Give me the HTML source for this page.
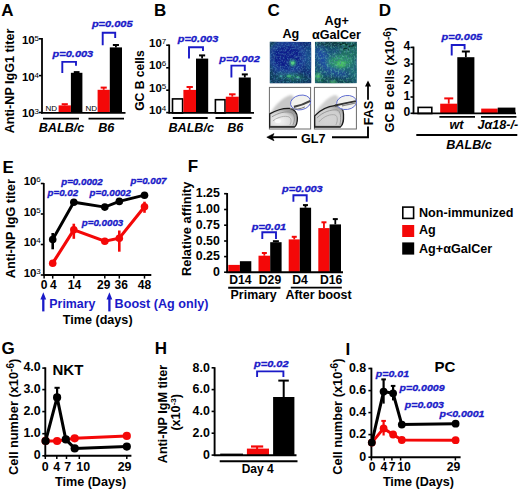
<!DOCTYPE html>
<html><head><meta charset="utf-8"><style>
html,body{margin:0;padding:0;background:#fff;}
svg{display:block;}
text{font-family:"Liberation Sans",sans-serif;}
</style></head><body>
<svg width="520" height="492" viewBox="0 0 520 492" font-weight="bold">
<defs>
<clipPath id="clip1"><rect x="269.8" y="41.8" width="41.5" height="41.5"/></clipPath>
<clipPath id="clip2"><rect x="314.9" y="41.8" width="41.9" height="41.5"/></clipPath>
<filter id="dnoise" x="0" y="0" width="1" height="1"><feTurbulence type="fractalNoise" baseFrequency="0.5" numOctaves="2" seed="11"/><feColorMatrix type="matrix" values="0 0 0 0 0.05  0 0 0 0 0.12  0 0 0 0 0.35  0 0 0 2.6 -1.2"/><feComposite in2="SourceGraphic" operator="in"/></filter>
<filter id="blur2" x="-20%" y="-20%" width="140%" height="140%"><feGaussianBlur stdDeviation="2.2"/></filter>
<filter id="blur05" x="-50%" y="-50%" width="200%" height="200%"><feGaussianBlur stdDeviation="0.5"/></filter>
<filter id="blur1" x="-30%" y="-30%" width="160%" height="160%"><feGaussianBlur stdDeviation="1"/></filter>
<radialGradient id="fg1" cx="0.35" cy="0.7" r="0.75"><stop offset="0" stop-color="#f4f4f4"/><stop offset="0.6" stop-color="#d8d8d8"/><stop offset="1" stop-color="#8a8a8a"/></radialGradient>
<radialGradient id="fg2" cx="0.45" cy="0.65" r="0.75"><stop offset="0" stop-color="#d4d4d4"/><stop offset="0.6" stop-color="#cfcfcf"/><stop offset="1" stop-color="#8a8a8a"/></radialGradient>
<radialGradient id="mg1" cx="0.45" cy="0.55" r="0.7">
 <stop offset="0" stop-color="#2f9a6a"/><stop offset="0.15" stop-color="#1f5ab8"/><stop offset="0.6" stop-color="#1838a8"/><stop offset="1" stop-color="#1a5a8a"/>
</radialGradient>
<radialGradient id="mg2" cx="0.55" cy="0.55" r="0.7">
 <stop offset="0" stop-color="#3fae5a"/><stop offset="0.35" stop-color="#2a7a9a"/><stop offset="1" stop-color="#1f5aa0"/>
</radialGradient>
<filter id="noise1" x="0" y="0" width="1" height="1"><feTurbulence type="fractalNoise" baseFrequency="0.6" numOctaves="2" seed="3"/><feColorMatrix type="matrix" values="0 0 0 0 0.1  0 0 0 0 0.45  0 0 0 0 0.6  0 0 0 3 -1.4"/><feComposite in2="SourceGraphic" operator="in"/></filter>
<filter id="noise2" x="0" y="0" width="1" height="1"><feTurbulence type="fractalNoise" baseFrequency="0.55 0.45" numOctaves="2" seed="8"/><feColorMatrix type="matrix" values="0 0 0 0 0.15  0 0 0 0 0.6  0 0 0 0 0.45  0 0 0 3 -1.35"/><feComposite in2="SourceGraphic" operator="in"/></filter>
</defs>
<rect width="520" height="492" fill="#fff"/>
<text x="1.3" y="16.3" font-size="17" text-anchor="start" fill="#000">A</text>
<text x="14" y="81" font-size="12.6" text-anchor="middle" fill="#000" transform="rotate(-90 14 81)">Anti-NP IgG1 titer</text>
<line x1="42" y1="38" x2="42" y2="113.5" stroke="#000" stroke-width="1.8" stroke-linecap="butt"/>
<line x1="39" y1="38.8" x2="42" y2="38.8" stroke="#000" stroke-width="1.6" stroke-linecap="butt"/>
<line x1="39" y1="75.6" x2="42" y2="75.6" stroke="#000" stroke-width="1.6" stroke-linecap="butt"/>
<line x1="39" y1="112.5" x2="42" y2="112.5" stroke="#000" stroke-width="1.6" stroke-linecap="butt"/>
<text x="39" y="43.8" font-size="11.4" text-anchor="end">10<tspan font-size="8" font-weight="normal" dy="-3">5</tspan></text>
<text x="39" y="80.6" font-size="11.4" text-anchor="end">10<tspan font-size="8" font-weight="normal" dy="-3">4</tspan></text>
<text x="39" y="117.3" font-size="11.4" text-anchor="end">10<tspan font-size="8" font-weight="normal" dy="-3">3</tspan></text>
<line x1="64.75" y1="105.4" x2="64.75" y2="104.2" stroke="#f40808" stroke-width="1.8" stroke-linecap="butt"/>
<line x1="61.675" y1="104.2" x2="67.825" y2="104.2" stroke="#f40808" stroke-width="2" stroke-linecap="butt"/>
<rect x="58.6" y="105.4" width="12.300000000000004" height="7.599999999999994" fill="#f40808"/>
<line x1="76.65" y1="72.8" x2="76.65" y2="72.1" stroke="#000" stroke-width="1.8" stroke-linecap="butt"/>
<line x1="73.775" y1="72.1" x2="79.525" y2="72.1" stroke="#000" stroke-width="2" stroke-linecap="butt"/>
<rect x="70.9" y="72.8" width="11.5" height="40.2" fill="#000"/>
<line x1="103.69999999999999" y1="89.8" x2="103.69999999999999" y2="87.6" stroke="#f40808" stroke-width="1.8" stroke-linecap="butt"/>
<line x1="100.64999999999999" y1="87.6" x2="106.74999999999999" y2="87.6" stroke="#f40808" stroke-width="2" stroke-linecap="butt"/>
<rect x="97.6" y="89.8" width="12.200000000000003" height="23.200000000000003" fill="#f40808"/>
<line x1="115.9" y1="47.4" x2="115.9" y2="45" stroke="#000" stroke-width="1.8" stroke-linecap="butt"/>
<line x1="112.85000000000001" y1="45" x2="118.95" y2="45" stroke="#000" stroke-width="2" stroke-linecap="butt"/>
<rect x="109.8" y="47.4" width="12.200000000000003" height="65.6" fill="#000"/>
<line x1="41" y1="112.8" x2="125.5" y2="112.8" stroke="#000" stroke-width="1.8" stroke-linecap="butt"/>
<text x="45.5" y="110.6" font-size="8" text-anchor="start" font-weight="normal" fill="#000">ND</text>
<text x="85.4" y="110.6" font-size="8" text-anchor="start" font-weight="normal" fill="#000">ND</text>
<line x1="43" y1="118.6" x2="79" y2="118.6" stroke="#000" stroke-width="1.8" stroke-linecap="butt"/>
<line x1="88.5" y1="118.6" x2="124" y2="118.6" stroke="#000" stroke-width="1.8" stroke-linecap="butt"/>
<text x="61.5" y="131.5" font-size="12.6" text-anchor="middle" font-style="italic" fill="#000">BALB/c</text>
<text x="106.3" y="131.5" font-size="12.6" text-anchor="middle" font-style="italic" fill="#000">B6</text>
<text transform="translate(52.6 57.1) scale(1.196 1)" font-size="9.2" font-style="italic" fill="#1a1ac8" stroke="#1a1ac8" stroke-width="0.3">p=0.003</text>
<path d="M62.3 72.9 V61.9 H76 V65.8" stroke="#1a1ac8" stroke-width="1.9" fill="none" />
<text transform="translate(91.9 27.4) scale(1.196 1)" font-size="9.2" font-style="italic" fill="#1a1ac8" stroke="#1a1ac8" stroke-width="0.3">p=0.005</text>
<path d="M102.7 45.3 V32.8 H115.2 V38" stroke="#1a1ac8" stroke-width="1.9" fill="none" />
<text x="154" y="15.6" font-size="17" text-anchor="start" fill="#000">B</text>
<text x="144.2" y="80.6" font-size="12.1" text-anchor="middle" fill="#000" transform="rotate(-90 144.2 80.6)">GC B cells</text>
<line x1="169.2" y1="44.5" x2="169.2" y2="113.4" stroke="#000" stroke-width="1.8" stroke-linecap="butt"/>
<line x1="166.2" y1="45.2" x2="169.2" y2="45.2" stroke="#000" stroke-width="1.6" stroke-linecap="butt"/>
<line x1="166.2" y1="67.8" x2="169.2" y2="67.8" stroke="#000" stroke-width="1.6" stroke-linecap="butt"/>
<line x1="166.2" y1="90.2" x2="169.2" y2="90.2" stroke="#000" stroke-width="1.6" stroke-linecap="butt"/>
<line x1="166.2" y1="112.6" x2="169.2" y2="112.6" stroke="#000" stroke-width="1.6" stroke-linecap="butt"/>
<text x="166.2" y="46.800000000000004" font-size="11.4" text-anchor="end">10<tspan font-size="8" font-weight="normal" dy="-3">7</tspan></text>
<text x="166.2" y="69.39999999999999" font-size="11.4" text-anchor="end">10<tspan font-size="8" font-weight="normal" dy="-3">6</tspan></text>
<text x="166.2" y="91.8" font-size="11.4" text-anchor="end">10<tspan font-size="8" font-weight="normal" dy="-3">5</tspan></text>
<text x="166.2" y="114.19999999999999" font-size="11.4" text-anchor="end">10<tspan font-size="8" font-weight="normal" dy="-3">4</tspan></text>
<rect x="172.5" y="98.89999999999999" width="10.099999999999994" height="14.100000000000009" fill="#fff" stroke="#000" stroke-width="1.6"/>
<line x1="189.7" y1="89.9" x2="189.7" y2="87" stroke="#f40808" stroke-width="1.8" stroke-linecap="butt"/>
<line x1="186.54999999999998" y1="87" x2="192.85" y2="87" stroke="#f40808" stroke-width="2" stroke-linecap="butt"/>
<rect x="183.4" y="89.9" width="12.599999999999994" height="23.099999999999994" fill="#f40808"/>
<line x1="202.1" y1="58.6" x2="202.1" y2="55.4" stroke="#000" stroke-width="1.8" stroke-linecap="butt"/>
<line x1="199.05" y1="55.4" x2="205.14999999999998" y2="55.4" stroke="#000" stroke-width="2" stroke-linecap="butt"/>
<rect x="196" y="58.6" width="12.199999999999989" height="54.4" fill="#000"/>
<rect x="215.4" y="99.7" width="9.599999999999994" height="13.299999999999997" fill="#fff" stroke="#000" stroke-width="1.6"/>
<line x1="232.3" y1="96.7" x2="232.3" y2="94.3" stroke="#f40808" stroke-width="1.8" stroke-linecap="butt"/>
<line x1="229.05" y1="94.3" x2="235.55" y2="94.3" stroke="#f40808" stroke-width="2" stroke-linecap="butt"/>
<rect x="225.8" y="96.7" width="13.0" height="16.299999999999997" fill="#f40808"/>
<line x1="244.8" y1="77.5" x2="244.8" y2="74.4" stroke="#000" stroke-width="1.8" stroke-linecap="butt"/>
<line x1="241.8" y1="74.4" x2="247.8" y2="74.4" stroke="#000" stroke-width="2" stroke-linecap="butt"/>
<rect x="238.8" y="77.5" width="12.0" height="35.5" fill="#000"/>
<line x1="168.5" y1="112.8" x2="254" y2="112.8" stroke="#000" stroke-width="1.8" stroke-linecap="butt"/>
<line x1="172.8" y1="118" x2="207.7" y2="118" stroke="#000" stroke-width="1.8" stroke-linecap="butt"/>
<line x1="215.5" y1="118" x2="251.5" y2="118" stroke="#000" stroke-width="1.8" stroke-linecap="butt"/>
<text x="191.2" y="131.8" font-size="12.6" text-anchor="middle" font-style="italic" fill="#000">BALB/c</text>
<text x="235.2" y="131.8" font-size="12.6" text-anchor="middle" font-style="italic" fill="#000">B6</text>
<text transform="translate(177.7 41.9) scale(1.196 1)" font-size="9.2" font-style="italic" fill="#1a1ac8" stroke="#1a1ac8" stroke-width="0.3">p=0.003</text>
<path d="M189 58.6 V47.3 H203 V51" stroke="#1a1ac8" stroke-width="1.9" fill="none" />
<text transform="translate(219.2 61.8) scale(1.196 1)" font-size="9.2" font-style="italic" fill="#1a1ac8" stroke="#1a1ac8" stroke-width="0.3">p=0.002</text>
<path d="M231.4 77.5 V65.6 H244.8 V71" stroke="#1a1ac8" stroke-width="1.9" fill="none" />
<text x="267.5" y="16.2" font-size="17" text-anchor="start" fill="#000">C</text>
<text x="290.9" y="38" font-size="12.6" text-anchor="middle" fill="#000">Ag</text>
<text x="336.7" y="25" font-size="12.6" text-anchor="middle" fill="#000">Ag+</text>
<text x="336.5" y="38.8" font-size="12.6" text-anchor="middle" fill="#000">αGalCer</text>
<g clip-path="url(#clip1)"><rect x="269.8" y="41.8" width="41.5" height="41.5" fill="#0f2672"/><g filter="url(#blur2)"><rect x="266" y="38" width="7" height="50" fill="#0d4050"/><ellipse cx="271" cy="44" rx="8" ry="5" fill="#0b3a40"/><ellipse cx="290" cy="80" rx="24" ry="7" fill="#0e3a5c"/><ellipse cx="287" cy="57" rx="17" ry="15" fill="none" stroke="#2148a4" stroke-width="3.5"/><ellipse cx="287" cy="57" rx="14" ry="12.5" fill="#0c1e8a"/><ellipse cx="309" cy="58" rx="3.5" ry="14" fill="#17508a"/><ellipse cx="292" cy="76.5" rx="6" ry="3" fill="#1f7a58"/><ellipse cx="281" cy="75" rx="4" ry="2.5" fill="#1f6a6a"/><ellipse cx="299" cy="77" rx="4" ry="2.5" fill="#1f6a5a"/></g><circle cx="292.6" cy="63" r="3.4" fill="#2a9a70" filter="url(#blur1)"/><circle cx="292.6" cy="63" r="1.8" fill="#5ad080" filter="url(#blur05)"/><ellipse cx="289" cy="76" rx="2.2" ry="1.5" fill="#3cb070" filter="url(#blur05)"/><ellipse cx="298" cy="77.5" rx="1.5" ry="1.2" fill="#50c090" filter="url(#blur05)"/><ellipse cx="281" cy="76" rx="1.5" ry="1" fill="#3a9aa0" filter="url(#blur05)"/><rect x="269.8" y="41.8" width="41.5" height="41.5" fill="#000" filter="url(#noise1)" opacity="0.5"/><rect x="269.8" y="41.8" width="41.5" height="41.5" fill="#000" filter="url(#dnoise)" opacity="0.7"/></g>
<g clip-path="url(#clip2)"><rect x="314.9" y="41.8" width="41.9" height="41.5" fill="#185276"/><g filter="url(#blur2)"><ellipse cx="340" cy="43" rx="26" ry="4" fill="#0d3a40"/><ellipse cx="350" cy="52" rx="10" ry="9" fill="#1d6a5e"/><ellipse cx="324" cy="60" rx="6" ry="14" fill="#1f4ca0" transform="rotate(-30 324 60)"/><ellipse cx="336" cy="72" rx="12" ry="3" fill="#1f4c98" transform="rotate(20 336 72)"/><ellipse cx="340" cy="62" rx="13" ry="7" fill="#2a9068"/><ellipse cx="335" cy="81" rx="22" ry="4" fill="#0f4448"/><ellipse cx="354" cy="72" rx="4" ry="9" fill="#1a6a70"/><ellipse cx="318" cy="78" rx="4" ry="5" fill="#1f7a50"/></g><ellipse cx="341" cy="64" rx="5" ry="3.2" fill="#46c060" filter="url(#blur1)"/><ellipse cx="318" cy="76" rx="2.2" ry="3" fill="#52c070" filter="url(#blur1)"/><ellipse cx="333" cy="82" rx="3" ry="1.5" fill="#50c070" filter="url(#blur1)"/><path d="M340 45 q4 -3 7 0 q3 3 7 0" stroke="#062820" stroke-width="1.2" fill="none"/><path d="M343 49 q3 -2 6 1" stroke="#062820" stroke-width="1" fill="none"/><rect x="314.9" y="41.8" width="41.9" height="41.5" fill="#000" filter="url(#noise2)" opacity="0.55"/><rect x="314.9" y="41.8" width="41.9" height="41.5" fill="#000" filter="url(#dnoise)" opacity="0.6"/></g>
<rect x="269.4" y="87.4" width="41.200000000000045" height="41.599999999999994" fill="#fff" stroke="#6a6a6a" stroke-width="1.0"/>
<rect x="314.4" y="87.4" width="42.0" height="41.599999999999994" fill="#fff" stroke="#6a6a6a" stroke-width="1.0"/>
<path d="M269.9 113.9 C274.9 104.9 282.9 96.9 290.9 94.9 C295.9 95.9 294.9 102.9 290.9 107.9 C282.9 109.9 274.9 111.9 269.9 115.9 Z" fill="#c8c8c8" filter="url(#blur1)"/>
<path d="M269.7 113.9 C274.9 110.9 282.9 107.9 289.9 108.4 C293.9 108.9 297.4 112.9 297.4 117.9 C297.4 121.9 296.9 125.4 294.29999999999995 127.10000000000001 L269.7 127.10000000000001 Z" fill="url(#fg1)" stroke="#1a1a1a" stroke-width="1.3"/>
<path d="M271.9 116.9 C277.9 112.9 285.9 110.9 290.9 112.4 C294.9 113.9 295.4 119.9 292.9 124.9" stroke="#888" stroke-width="0.8" fill="none"/>
<path d="M272.9 120.9 C277.9 116.9 284.9 115.4 288.9 116.9 C291.9 118.4 291.4 121.9 289.9 124.9" stroke="#999" stroke-width="0.7" fill="none"/>
<ellipse cx="277.9" cy="120.9" rx="3" ry="2" fill="#fafafa" filter="url(#blur05)"/>
<path d="M269.9 126.5 H293.9" stroke="#333" stroke-width="1.2"/>
<ellipse cx="300.59999999999997" cy="102.5" rx="10.2" ry="7.3" transform="rotate(-12 300.59999999999997 102.5)" fill="#f2f2ee" stroke="#5a68d0" stroke-width="0.9"/>
<path d="M293.9 106.9 C298.9 105.9 304.9 103.9 310.4 100.9" stroke="#444" stroke-width="2.2" fill="none"/>
<path d="M289.9 108.4 C294.9 109.9 300.9 108.9 304.9 106.9" stroke="#777" stroke-width="1" fill="none"/>
<path d="M314.9 113.9 C319.9 104.9 327.9 96.9 334.9 94.9 C339.9 95.9 339.9 100.9 335.9 104.9 C327.9 107.9 319.9 111.9 314.9 115.9 Z" fill="#cfcfcf" filter="url(#blur1)"/>
<path d="M314.7 115.9 C319.9 109.9 327.9 106.4 335.9 105.4 C340.9 105.9 343.4 108.9 343.5 113.9 C343.7 119.9 343.7 124.4 340.29999999999995 127.10000000000001 L314.7 127.10000000000001 Z" fill="url(#fg2)" stroke="#1a1a1a" stroke-width="1.3"/>
<path d="M316.9 117.9 C322.9 111.9 330.9 109.4 336.9 109.9 C340.9 110.9 341.4 117.9 339.9 124.9" stroke="#8a8a8a" stroke-width="0.8" fill="none"/>
<path d="M318.9 121.9 C323.9 115.9 330.9 113.9 334.9 114.9 C337.9 115.9 337.9 120.9 335.9 124.9" stroke="#9a9a9a" stroke-width="0.7" fill="none"/>
<path d="M314.9 126.5 H339.9" stroke="#333" stroke-width="1.2"/>
<ellipse cx="346.59999999999997" cy="102.5" rx="10" ry="7" transform="rotate(-8 346.59999999999997 102.5)" fill="#f2f2ee" stroke="#5a68d0" stroke-width="0.9"/>
<path d="M334.9 105.5 C341.9 103.9 348.9 102.4 355.9 101.10000000000001" stroke="#333" stroke-width="1.8" fill="none"/>
<path d="M341.9 105.9 C346.9 104.9 351.9 103.9 355.9 102.9" stroke="#888" stroke-width="1.4" fill="none"/>
<line x1="270" y1="137.2" x2="297" y2="137.2" stroke="#000" stroke-width="1.9" stroke-linecap="butt"/>
<path d="M266.8 137.2 L274 133.6 L272.4 137.2 L274 140.8 Z" stroke="#000" stroke-width="0.6" fill="#000" />
<text x="313.2" y="142.8" font-size="12.6" text-anchor="middle" fill="#000">GL7</text>
<path d="M332 137.2 H368 V126.5" stroke="#000" stroke-width="1.9" fill="none" />
<line x1="368" y1="99.8" x2="368" y2="85" stroke="#000" stroke-width="1.8" stroke-linecap="butt"/>
<path d="M368 80.5 L365 86.5 L371 86.5 Z" stroke="#000" stroke-width="0" fill="#000" />
<text x="372.6" y="113" font-size="12.6" text-anchor="middle" fill="#000" transform="rotate(-90 372.6 113)">FAS</text>
<text x="378.8" y="16.3" font-size="17" text-anchor="start" fill="#000">D</text>
<text x="394.2" y="79.7" font-size="12.7" text-anchor="middle" fill="#000" transform="rotate(-90 394.2 79.7)">GC B cells (x10<tspan font-size='10' dy='-3.5'>-6</tspan><tspan dy='3.5'>)</tspan></text>
<line x1="413.5" y1="46.6" x2="413.5" y2="114" stroke="#000" stroke-width="1.8" stroke-linecap="butt"/>
<line x1="410.5" y1="47.4" x2="413.5" y2="47.4" stroke="#000" stroke-width="1.6" stroke-linecap="butt"/>
<text x="410.3" y="50.3" font-size="12.2" text-anchor="end" fill="#000">4</text>
<line x1="410.5" y1="64" x2="413.5" y2="64" stroke="#000" stroke-width="1.6" stroke-linecap="butt"/>
<text x="410.3" y="66.9" font-size="12.2" text-anchor="end" fill="#000">3</text>
<line x1="410.5" y1="80.6" x2="413.5" y2="80.6" stroke="#000" stroke-width="1.6" stroke-linecap="butt"/>
<text x="410.3" y="83.5" font-size="12.2" text-anchor="end" fill="#000">2</text>
<line x1="410.5" y1="97" x2="413.5" y2="97" stroke="#000" stroke-width="1.6" stroke-linecap="butt"/>
<text x="410.3" y="99.9" font-size="12.2" text-anchor="end" fill="#000">1</text>
<line x1="410.5" y1="113.3" x2="413.5" y2="113.3" stroke="#000" stroke-width="1.6" stroke-linecap="butt"/>
<text x="410.3" y="116.2" font-size="12.2" text-anchor="end" fill="#000">0</text>
<rect x="418.1" y="107.39999999999999" width="13.699999999999989" height="6.1000000000000085" fill="#fff" stroke="#000" stroke-width="1.6"/>
<line x1="448.75" y1="103.7" x2="448.75" y2="98.4" stroke="#f40808" stroke-width="1.8" stroke-linecap="butt"/>
<line x1="444.25" y1="98.4" x2="453.25" y2="98.4" stroke="#f40808" stroke-width="2" stroke-linecap="butt"/>
<rect x="440.2" y="103.7" width="17.100000000000023" height="9.799999999999997" fill="#f40808"/>
<line x1="465.85" y1="57.2" x2="465.85" y2="51.5" stroke="#000" stroke-width="1.8" stroke-linecap="butt"/>
<line x1="461.85" y1="51.5" x2="469.85" y2="51.5" stroke="#000" stroke-width="2" stroke-linecap="butt"/>
<rect x="457.3" y="57.2" width="17.099999999999966" height="56.3" fill="#000"/>
<rect x="481.2" y="108.6" width="16.5" height="4.900000000000006" fill="#f40808"/>
<rect x="497.7" y="107.6" width="17.69999999999999" height="5.900000000000006" fill="#000"/>
<line x1="412.7" y1="113.3" x2="516" y2="113.3" stroke="#000" stroke-width="1.8" stroke-linecap="butt"/>
<line x1="439.4" y1="116.9" x2="475" y2="116.9" stroke="#000" stroke-width="1.9" stroke-linecap="butt"/>
<line x1="481" y1="116.9" x2="516.4" y2="116.9" stroke="#000" stroke-width="1.9" stroke-linecap="butt"/>
<line x1="416.3" y1="135" x2="517.3" y2="135" stroke="#000" stroke-width="1.8" stroke-linecap="butt"/>
<text x="456.5" y="128.5" font-size="12.6" text-anchor="middle" font-style="italic" fill="#000">wt</text>
<text x="497.8" y="128.5" font-size="12.6" text-anchor="middle" font-style="italic" fill="#000">Jα18-/-</text>
<text x="469" y="148.5" font-size="12.6" text-anchor="middle" font-style="italic" fill="#000">BALB/c</text>
<text transform="translate(441.5 39.7) scale(1.196 1)" font-size="9.2" font-style="italic" fill="#1a1ac8" stroke="#1a1ac8" stroke-width="0.3">p=0.005</text>
<path d="M451.7 55.5 V45 H464.6 V49.4" stroke="#1a1ac8" stroke-width="1.9" fill="none" />
<text x="2.5" y="172.9" font-size="17" text-anchor="start" fill="#000">E</text>
<text x="15.3" y="228.7" font-size="12.8" text-anchor="middle" fill="#000" transform="rotate(-90 15.3 228.7)">Anti-NP IgG titer</text>
<line x1="43.8" y1="183" x2="43.8" y2="275.8" stroke="#000" stroke-width="1.8" stroke-linecap="butt"/>
<line x1="40.8" y1="183.5" x2="43.8" y2="183.5" stroke="#000" stroke-width="1.6" stroke-linecap="butt"/>
<text x="40.8" y="185.3" font-size="11.4" text-anchor="end">10<tspan font-size="8" font-weight="normal" dy="-3">6</tspan></text>
<line x1="40.8" y1="214" x2="43.8" y2="214" stroke="#000" stroke-width="1.6" stroke-linecap="butt"/>
<text x="40.8" y="215.8" font-size="11.4" text-anchor="end">10<tspan font-size="8" font-weight="normal" dy="-3">5</tspan></text>
<line x1="40.8" y1="244.5" x2="43.8" y2="244.5" stroke="#000" stroke-width="1.6" stroke-linecap="butt"/>
<text x="40.8" y="246.3" font-size="11.4" text-anchor="end">10<tspan font-size="8" font-weight="normal" dy="-3">4</tspan></text>
<line x1="40.8" y1="275" x2="43.8" y2="275" stroke="#000" stroke-width="1.6" stroke-linecap="butt"/>
<text x="40.8" y="276.8" font-size="11.4" text-anchor="end">10<tspan font-size="8" font-weight="normal" dy="-3">3</tspan></text>
<line x1="43" y1="275" x2="151.3" y2="275" stroke="#000" stroke-width="1.8" stroke-linecap="butt"/>
<line x1="44.1" y1="275" x2="44.1" y2="278.6" stroke="#000" stroke-width="1.5" stroke-linecap="butt"/>
<line x1="52.7" y1="275" x2="52.7" y2="278.6" stroke="#000" stroke-width="1.5" stroke-linecap="butt"/>
<line x1="73.8" y1="275" x2="73.8" y2="278.6" stroke="#000" stroke-width="1.5" stroke-linecap="butt"/>
<line x1="104.8" y1="275" x2="104.8" y2="278.6" stroke="#000" stroke-width="1.5" stroke-linecap="butt"/>
<line x1="119.3" y1="275" x2="119.3" y2="278.6" stroke="#000" stroke-width="1.5" stroke-linecap="butt"/>
<line x1="144.5" y1="275" x2="144.5" y2="278.6" stroke="#000" stroke-width="1.5" stroke-linecap="butt"/>
<line x1="73.8" y1="223.7" x2="73.8" y2="238.8" stroke="#f40808" stroke-width="2.6" stroke-linecap="butt"/>
<line x1="119.3" y1="230.5" x2="119.3" y2="251.7" stroke="#f40808" stroke-width="2.6" stroke-linecap="butt"/>
<line x1="144.5" y1="201.7" x2="144.5" y2="212.8" stroke="#f40808" stroke-width="2.6" stroke-linecap="butt"/>
<path d="M52.7 263.2 L73.8 229.8 L104.8 241.2 L119.3 238.2 L144.5 206.8" stroke="#f40808" stroke-width="3.1" fill="none" />
<circle cx="52.7" cy="263.2" r="3.8" fill="#f40808"/>
<circle cx="73.8" cy="229.8" r="3.8" fill="#f40808"/>
<circle cx="104.8" cy="241.2" r="3.8" fill="#f40808"/>
<circle cx="119.3" cy="238.2" r="3.8" fill="#f40808"/>
<circle cx="144.5" cy="206.8" r="3.8" fill="#f40808"/>
<line x1="52.7" y1="233" x2="52.7" y2="249.3" stroke="#000" stroke-width="2.6" stroke-linecap="butt"/>
<path d="M52.7 239.5 L73.8 202.2 L104.8 207.1 L119.3 201.4 L144.5 195.2" stroke="#000" stroke-width="2.9" fill="none" />
<circle cx="52.7" cy="239.5" r="3.8" fill="#000"/>
<circle cx="73.8" cy="202.2" r="3.8" fill="#000"/>
<circle cx="104.8" cy="207.1" r="3.8" fill="#000"/>
<circle cx="119.3" cy="201.4" r="3.8" fill="#000"/>
<circle cx="144.5" cy="195.2" r="3.8" fill="#000"/>
<text x="44.1" y="289.2" font-size="12" text-anchor="middle" fill="#000">0</text>
<text x="53.3" y="289.2" font-size="12" text-anchor="middle" fill="#000">4</text>
<text x="74.4" y="289.2" font-size="12" text-anchor="middle" fill="#000">14</text>
<text x="103.7" y="289.2" font-size="12" text-anchor="middle" fill="#000">29</text>
<text x="121.2" y="289.2" font-size="12" text-anchor="middle" fill="#000">36</text>
<text x="144.5" y="289.2" font-size="12" text-anchor="middle" fill="#000">48</text>
<text transform="translate(61.2 184.9) scale(1.134 1)" font-size="8.6" font-style="italic" fill="#1a1ac8" stroke="#1a1ac8" stroke-width="0.3">p=0.0002</text>
<text transform="translate(47.5 196.4) scale(1.134 1)" font-size="8.6" font-style="italic" fill="#1a1ac8" stroke="#1a1ac8" stroke-width="0.3">p=0.02</text>
<text transform="translate(89.5 195.6) scale(1.134 1)" font-size="8.6" font-style="italic" fill="#1a1ac8" stroke="#1a1ac8" stroke-width="0.3">p=0.0002</text>
<text transform="translate(130.5 184.1) scale(1.134 1)" font-size="8.6" font-style="italic" fill="#1a1ac8" stroke="#1a1ac8" stroke-width="0.3">p=0.007</text>
<text transform="translate(81.8 226.3) scale(1.134 1)" font-size="8.6" font-style="italic" fill="#1a1ac8" stroke="#1a1ac8" stroke-width="0.3">p=0.0003</text>
<line x1="43.3" y1="297" x2="43.3" y2="311.4" stroke="#1a1ac8" stroke-width="2.3" stroke-linecap="butt"/>
<path d="M43.3 292.2 L40.4 299.6 L46.199999999999996 299.6 Z" stroke="#000" stroke-width="0" fill="#1a1ac8" />
<line x1="109.4" y1="297" x2="109.4" y2="311.4" stroke="#1a1ac8" stroke-width="2.3" stroke-linecap="butt"/>
<path d="M109.4 292.2 L106.5 299.6 L112.30000000000001 299.6 Z" stroke="#000" stroke-width="0" fill="#1a1ac8" />
<text x="49.3" y="307.8" font-size="12.4" text-anchor="start" fill="#1a1ac8">Primary</text>
<text x="114.6" y="307.8" font-size="12.6" text-anchor="start" fill="#1a1ac8">Boost (Ag only)</text>
<text x="97.7" y="324.2" font-size="12.6" text-anchor="middle" fill="#000">Time (days)</text>
<text x="187.7" y="172.4" font-size="17" text-anchor="start" fill="#000">F</text>
<text x="190.8" y="228.8" font-size="12.8" text-anchor="middle" fill="#000" transform="rotate(-90 190.8 228.8)">Relative affinity</text>
<line x1="227.1" y1="193" x2="227.1" y2="272.8" stroke="#000" stroke-width="1.9" stroke-linecap="butt"/>
<line x1="224.1" y1="193.7" x2="227.1" y2="193.7" stroke="#000" stroke-width="1.6" stroke-linecap="butt"/>
<text x="219.9" y="197.29999999999998" font-size="12.4" text-anchor="end" fill="#000">1.25</text>
<line x1="224.1" y1="209.5" x2="227.1" y2="209.5" stroke="#000" stroke-width="1.6" stroke-linecap="butt"/>
<text x="219.9" y="213.1" font-size="12.4" text-anchor="end" fill="#000">1.00</text>
<line x1="224.1" y1="225.2" x2="227.1" y2="225.2" stroke="#000" stroke-width="1.6" stroke-linecap="butt"/>
<text x="219.9" y="228.79999999999998" font-size="12.4" text-anchor="end" fill="#000">0.75</text>
<line x1="224.1" y1="241" x2="227.1" y2="241" stroke="#000" stroke-width="1.6" stroke-linecap="butt"/>
<text x="219.9" y="244.6" font-size="12.4" text-anchor="end" fill="#000">0.50</text>
<line x1="224.1" y1="256.6" x2="227.1" y2="256.6" stroke="#000" stroke-width="1.6" stroke-linecap="butt"/>
<text x="219.9" y="260.20000000000005" font-size="12.4" text-anchor="end" fill="#000">0.25</text>
<line x1="224.1" y1="272.2" x2="227.1" y2="272.2" stroke="#000" stroke-width="1.6" stroke-linecap="butt"/>
<text x="219.9" y="275.8" font-size="12.4" text-anchor="end" fill="#000">0</text>
<rect x="228.3" y="264.9" width="11.599999999999994" height="7.400000000000034" fill="#f40808"/>
<rect x="239.9" y="261.2" width="11.400000000000006" height="11.100000000000023" fill="#000"/>
<line x1="264.35" y1="255.7" x2="264.35" y2="253" stroke="#f40808" stroke-width="1.8" stroke-linecap="butt"/>
<line x1="261.85" y1="253" x2="266.85" y2="253" stroke="#f40808" stroke-width="2" stroke-linecap="butt"/>
<rect x="258.5" y="255.7" width="11.699999999999989" height="16.600000000000023" fill="#f40808"/>
<line x1="275.9" y1="242.2" x2="275.9" y2="241.2" stroke="#000" stroke-width="1.8" stroke-linecap="butt"/>
<line x1="272.9" y1="241.2" x2="278.9" y2="241.2" stroke="#000" stroke-width="2" stroke-linecap="butt"/>
<rect x="270.2" y="242.2" width="11.400000000000034" height="30.100000000000023" fill="#000"/>
<line x1="294.25" y1="239.4" x2="294.25" y2="236.8" stroke="#f40808" stroke-width="1.8" stroke-linecap="butt"/>
<line x1="291.75" y1="236.8" x2="296.75" y2="236.8" stroke="#f40808" stroke-width="2" stroke-linecap="butt"/>
<rect x="288.7" y="239.4" width="11.100000000000023" height="32.900000000000006" fill="#f40808"/>
<line x1="305.45000000000005" y1="207.7" x2="305.45000000000005" y2="205.1" stroke="#000" stroke-width="1.8" stroke-linecap="butt"/>
<line x1="302.95000000000005" y1="205.1" x2="307.95000000000005" y2="205.1" stroke="#000" stroke-width="2" stroke-linecap="butt"/>
<rect x="299.8" y="207.7" width="11.300000000000011" height="64.60000000000002" fill="#000"/>
<line x1="323.95000000000005" y1="228.1" x2="323.95000000000005" y2="222.3" stroke="#f40808" stroke-width="1.8" stroke-linecap="butt"/>
<line x1="321.45000000000005" y1="222.3" x2="326.45000000000005" y2="222.3" stroke="#f40808" stroke-width="2" stroke-linecap="butt"/>
<rect x="318.3" y="228.1" width="11.300000000000011" height="44.20000000000002" fill="#f40808"/>
<line x1="335.3" y1="224.4" x2="335.3" y2="219.1" stroke="#000" stroke-width="1.8" stroke-linecap="butt"/>
<line x1="332.8" y1="219.1" x2="337.8" y2="219.1" stroke="#000" stroke-width="2" stroke-linecap="butt"/>
<rect x="329.6" y="224.4" width="11.399999999999977" height="47.900000000000006" fill="#000"/>
<line x1="226.2" y1="272.2" x2="343" y2="272.2" stroke="#000" stroke-width="1.9" stroke-linecap="butt"/>
<text x="240.4" y="283.6" font-size="12.2" text-anchor="middle" fill="#000">D14</text>
<text x="270" y="283.6" font-size="12.2" text-anchor="middle" fill="#000">D29</text>
<text x="300" y="283.6" font-size="12.2" text-anchor="middle" fill="#000">D4</text>
<text x="331.2" y="283.6" font-size="12.2" text-anchor="middle" fill="#000">D16</text>
<line x1="228.2" y1="287.7" x2="280.5" y2="287.7" stroke="#000" stroke-width="1.9" stroke-linecap="butt"/>
<line x1="290.8" y1="287.6" x2="341.8" y2="287.6" stroke="#000" stroke-width="1.9" stroke-linecap="butt"/>
<text x="253.7" y="299.3" font-size="12.4" text-anchor="middle" fill="#000">Primary</text>
<text x="318.6" y="299.1" font-size="12.4" text-anchor="middle" fill="#000">After boost</text>
<text transform="translate(251.7 230) scale(1.196 1)" font-size="9.2" font-style="italic" fill="#1a1ac8" stroke="#1a1ac8" stroke-width="0.3">p=0.01</text>
<path d="M262.3 239 V232.3 H276 V239" stroke="#1a1ac8" stroke-width="1.9" fill="none" />
<text transform="translate(282.1 191.8) scale(1.196 1)" font-size="9.2" font-style="italic" fill="#1a1ac8" stroke="#1a1ac8" stroke-width="0.3">p=0.003</text>
<path d="M293.4 201.7 V195.3 H306.7 V201.7" stroke="#1a1ac8" stroke-width="1.9" fill="none" />
<rect x="402.8" y="207.1" width="10.800000000000011" height="11.300000000000011" fill="#fff" stroke="#000" stroke-width="1.6"/>
<rect x="402.2" y="225" width="12.0" height="12" fill="#f40808"/>
<rect x="402.2" y="242.4" width="12.0" height="12.199999999999989" fill="#000"/>
<text x="419" y="217.2" font-size="12.6" text-anchor="start" fill="#000">Non-immunized</text>
<text x="419" y="234.4" font-size="12.6" text-anchor="start" fill="#000">Ag</text>
<text x="419" y="252.9" font-size="12.6" text-anchor="start" fill="#000">Ag+αGalCer</text>
<text x="1.6" y="353.8" font-size="17" text-anchor="start" fill="#000">G</text>
<text x="17.9" y="416.9" font-size="12.8" text-anchor="middle" fill="#000" transform="rotate(-90 17.9 416.9)">Cell number (x10<tspan font-size='10' dy='-3.5'>-6</tspan><tspan dy='3.5'>)</tspan></text>
<line x1="45.3" y1="367.3" x2="45.3" y2="456.8" stroke="#000" stroke-width="1.9" stroke-linecap="butt"/>
<line x1="42.3" y1="368.1" x2="45.3" y2="368.1" stroke="#000" stroke-width="1.6" stroke-linecap="butt"/>
<text x="40.7" y="371.3" font-size="12.4" text-anchor="end" fill="#000">4.0</text>
<line x1="42.3" y1="389.6" x2="45.3" y2="389.6" stroke="#000" stroke-width="1.6" stroke-linecap="butt"/>
<text x="40.7" y="392.8" font-size="12.4" text-anchor="end" fill="#000">3.0</text>
<line x1="42.3" y1="411.6" x2="45.3" y2="411.6" stroke="#000" stroke-width="1.6" stroke-linecap="butt"/>
<text x="40.7" y="414.8" font-size="12.4" text-anchor="end" fill="#000">2.0</text>
<line x1="42.3" y1="433.7" x2="45.3" y2="433.7" stroke="#000" stroke-width="1.6" stroke-linecap="butt"/>
<text x="40.7" y="436.9" font-size="12.4" text-anchor="end" fill="#000">1.0</text>
<line x1="42.3" y1="455.8" x2="45.3" y2="455.8" stroke="#000" stroke-width="1.6" stroke-linecap="butt"/>
<text x="40.7" y="459.0" font-size="12.4" text-anchor="end" fill="#000">0</text>
<line x1="44.4" y1="455.8" x2="131.4" y2="455.8" stroke="#000" stroke-width="1.9" stroke-linecap="butt"/>
<line x1="45.3" y1="455.8" x2="45.3" y2="459" stroke="#000" stroke-width="1.5" stroke-linecap="butt"/>
<line x1="56.8" y1="455.8" x2="56.8" y2="459" stroke="#000" stroke-width="1.5" stroke-linecap="butt"/>
<line x1="66.5" y1="455.8" x2="66.5" y2="459" stroke="#000" stroke-width="1.5" stroke-linecap="butt"/>
<line x1="79.3" y1="455.8" x2="79.3" y2="459" stroke="#000" stroke-width="1.5" stroke-linecap="butt"/>
<line x1="126.8" y1="455.8" x2="126.8" y2="459" stroke="#000" stroke-width="1.5" stroke-linecap="butt"/>
<path d="M45.6 440.9 L57.1 441 L74.7 438.3 L126.8 435.9" stroke="#f40808" stroke-width="3" fill="none" />
<circle cx="45.6" cy="440.9" r="4.1" fill="#f40808"/>
<circle cx="57.1" cy="441" r="4.1" fill="#f40808"/>
<circle cx="74.7" cy="438.3" r="4.1" fill="#f40808"/>
<circle cx="126.8" cy="435.9" r="4.1" fill="#f40808"/>
<line x1="57.1" y1="397.7" x2="57.1" y2="387.8" stroke="#000" stroke-width="2.2" stroke-linecap="butt"/>
<line x1="54.5" y1="387.8" x2="59.7" y2="387.8" stroke="#000" stroke-width="2" stroke-linecap="butt"/>
<path d="M45.6 441 L57.1 397.4 L65.8 439.4 L74.7 448.4 L126.8 446.6" stroke="#000" stroke-width="3" fill="none" />
<circle cx="45.6" cy="441" r="4.1" fill="#000"/>
<circle cx="57.1" cy="397.4" r="4.1" fill="#000"/>
<circle cx="65.8" cy="439.4" r="4.1" fill="#000"/>
<circle cx="74.7" cy="448.4" r="4.1" fill="#000"/>
<circle cx="126.8" cy="446.6" r="4.1" fill="#000"/>
<text x="45.3" y="471.3" font-size="12.4" text-anchor="middle" fill="#000">0</text>
<text x="56.8" y="471.3" font-size="12.4" text-anchor="middle" fill="#000">4</text>
<text x="67.6" y="471.3" font-size="12.4" text-anchor="middle" fill="#000">7</text>
<text x="83.2" y="471.3" font-size="12.4" text-anchor="middle" fill="#000">10</text>
<text x="124.6" y="471.3" font-size="12.4" text-anchor="middle" fill="#000">29</text>
<text x="90.6" y="485.8" font-size="12.6" text-anchor="middle" fill="#000">Time (Days)</text>
<text x="52.5" y="374.8" font-size="15" text-anchor="start" fill="#000">NKT</text>
<text x="154.7" y="353.8" font-size="17" text-anchor="start" fill="#000">H</text>
<text x="167" y="414" font-size="12.6" text-anchor="middle" fill="#000" transform="rotate(-90 167 414)">Anti-NP IgM titer</text>
<text x="180" y="412.3" font-size="12.6" text-anchor="middle" fill="#000" transform="rotate(-90 180 412.3)">(x10<tspan font-size='8' dy='-3.5'>-3</tspan><tspan dy='3.5'>)</tspan></text>
<line x1="214.6" y1="367.2" x2="214.6" y2="455.8" stroke="#000" stroke-width="1.9" stroke-linecap="butt"/>
<line x1="211.6" y1="367.8" x2="214.6" y2="367.8" stroke="#000" stroke-width="1.6" stroke-linecap="butt"/>
<text x="209.8" y="371.6" font-size="12.4" text-anchor="end" fill="#000">8.0</text>
<line x1="211.6" y1="389.6" x2="214.6" y2="389.6" stroke="#000" stroke-width="1.6" stroke-linecap="butt"/>
<text x="209.8" y="393.40000000000003" font-size="12.4" text-anchor="end" fill="#000">6.0</text>
<line x1="211.6" y1="411.4" x2="214.6" y2="411.4" stroke="#000" stroke-width="1.6" stroke-linecap="butt"/>
<text x="209.8" y="415.2" font-size="12.4" text-anchor="end" fill="#000">4.0</text>
<line x1="211.6" y1="433.2" x2="214.6" y2="433.2" stroke="#000" stroke-width="1.6" stroke-linecap="butt"/>
<text x="209.8" y="437.0" font-size="12.4" text-anchor="end" fill="#000">2.0</text>
<line x1="211.6" y1="455.1" x2="214.6" y2="455.1" stroke="#000" stroke-width="1.6" stroke-linecap="butt"/>
<text x="209.8" y="458.90000000000003" font-size="12.4" text-anchor="end" fill="#000">0</text>
<rect x="220.2" y="453.6" width="22.80000000000001" height="1.7999999999999545" fill="#000"/>
<line x1="251" y1="446.5" x2="263.2" y2="446.5" stroke="#f40808" stroke-width="2.2" stroke-linecap="butt"/>
<line x1="257.1" y1="446.5" x2="257.1" y2="449" stroke="#f40808" stroke-width="2" stroke-linecap="butt"/>
<rect x="246.9" y="448.6" width="22.099999999999994" height="6.899999999999977" fill="#f40808"/>
<line x1="283.7" y1="397.1" x2="283.7" y2="380.6" stroke="#000" stroke-width="2" stroke-linecap="butt"/>
<line x1="278.3" y1="380.6" x2="288.8" y2="380.6" stroke="#000" stroke-width="2" stroke-linecap="butt"/>
<rect x="273.1" y="397" width="21.299999999999955" height="58.5" fill="#000"/>
<line x1="213.8" y1="455.3" x2="296.5" y2="455.3" stroke="#000" stroke-width="1.9" stroke-linecap="butt"/>
<line x1="219.7" y1="461.3" x2="297.5" y2="461.3" stroke="#000" stroke-width="1.9" stroke-linecap="butt"/>
<text x="257.7" y="473.3" font-size="12" text-anchor="middle" fill="#000">Day 4</text>
<text transform="translate(254 367.1) scale(1.196 1)" font-size="9.2" font-style="italic" fill="#1a1ac8" stroke="#1a1ac8" stroke-width="0.3">p=0.02</text>
<path d="M257.1 376.9 V371.4 H283.4 V376.9" stroke="#1a1ac8" stroke-width="1.9" fill="none" />
<text x="345.5" y="355.4" font-size="17" text-anchor="start" fill="#000">I</text>
<text x="342" y="416.7" font-size="12.8" text-anchor="middle" fill="#000" transform="rotate(-90 342 416.7)">Cell number (x10<tspan font-size='10' dy='-3.5'>-6</tspan><tspan dy='3.5'>)</tspan></text>
<line x1="371.4" y1="367.7" x2="371.4" y2="458.2" stroke="#000" stroke-width="1.9" stroke-linecap="butt"/>
<line x1="368.4" y1="368.5" x2="371.4" y2="368.5" stroke="#000" stroke-width="1.6" stroke-linecap="butt"/>
<text x="366.2" y="372.0" font-size="12.4" text-anchor="end" fill="#000">0.8</text>
<line x1="368.4" y1="390.6" x2="371.4" y2="390.6" stroke="#000" stroke-width="1.6" stroke-linecap="butt"/>
<text x="366.2" y="394.1" font-size="12.4" text-anchor="end" fill="#000">0.6</text>
<line x1="368.4" y1="412.6" x2="371.4" y2="412.6" stroke="#000" stroke-width="1.6" stroke-linecap="butt"/>
<text x="366.2" y="416.1" font-size="12.4" text-anchor="end" fill="#000">0.4</text>
<line x1="368.4" y1="434.6" x2="371.4" y2="434.6" stroke="#000" stroke-width="1.6" stroke-linecap="butt"/>
<text x="366.2" y="438.1" font-size="12.4" text-anchor="end" fill="#000">0.2</text>
<line x1="368.4" y1="457.2" x2="371.4" y2="457.2" stroke="#000" stroke-width="1.6" stroke-linecap="butt"/>
<text x="366.2" y="460.7" font-size="12.4" text-anchor="end" fill="#000">0</text>
<line x1="370.5" y1="457.3" x2="460.6" y2="457.3" stroke="#000" stroke-width="1.9" stroke-linecap="butt"/>
<line x1="371.4" y1="457.3" x2="371.4" y2="460.5" stroke="#000" stroke-width="1.5" stroke-linecap="butt"/>
<line x1="384.2" y1="457.3" x2="384.2" y2="460.5" stroke="#000" stroke-width="1.5" stroke-linecap="butt"/>
<line x1="391.9" y1="457.3" x2="391.9" y2="460.5" stroke="#000" stroke-width="1.5" stroke-linecap="butt"/>
<line x1="400.6" y1="457.3" x2="400.6" y2="460.5" stroke="#000" stroke-width="1.5" stroke-linecap="butt"/>
<line x1="455.4" y1="457.3" x2="455.4" y2="460.5" stroke="#000" stroke-width="1.5" stroke-linecap="butt"/>
<line x1="383.6" y1="420.9" x2="383.6" y2="435.5" stroke="#f40808" stroke-width="2.2" stroke-linecap="butt"/>
<line x1="381.3" y1="420.9" x2="385.90000000000003" y2="420.9" stroke="#f40808" stroke-width="2" stroke-linecap="butt"/>
<path d="M371.8 442.6 L383.6 428.4 L393.1 434.5 L401.8 440 L455.6 440.2" stroke="#f40808" stroke-width="3" fill="none" />
<circle cx="371.8" cy="442.6" r="3.9" fill="#f40808"/>
<circle cx="383.6" cy="428.4" r="3.9" fill="#f40808"/>
<circle cx="393.1" cy="434.5" r="3.9" fill="#f40808"/>
<circle cx="401.8" cy="440" r="3.9" fill="#f40808"/>
<circle cx="455.6" cy="440.2" r="3.9" fill="#f40808"/>
<line x1="383.6" y1="379.4" x2="383.6" y2="403.6" stroke="#000" stroke-width="2.2" stroke-linecap="butt"/>
<line x1="381.3" y1="379.4" x2="385.90000000000003" y2="379.4" stroke="#000" stroke-width="2" stroke-linecap="butt"/>
<line x1="393.1" y1="385.9" x2="393.1" y2="400.4" stroke="#000" stroke-width="2.2" stroke-linecap="butt"/>
<line x1="390.8" y1="385.9" x2="395.40000000000003" y2="385.9" stroke="#000" stroke-width="2" stroke-linecap="butt"/>
<path d="M371.8 442.6 L383.6 391.6 L393.1 393.3 L401.8 424.6 L455.6 423.7" stroke="#000" stroke-width="3" fill="none" />
<circle cx="371.8" cy="442.6" r="3.9" fill="#000"/>
<circle cx="383.6" cy="391.6" r="3.9" fill="#000"/>
<circle cx="393.1" cy="393.3" r="3.9" fill="#000"/>
<circle cx="401.8" cy="424.6" r="3.9" fill="#000"/>
<circle cx="455.6" cy="423.7" r="3.9" fill="#000"/>
<text x="372.1" y="471" font-size="12.2" text-anchor="middle" fill="#000">0</text>
<text x="384" y="471" font-size="12.2" text-anchor="middle" fill="#000">4</text>
<text x="392.2" y="471" font-size="12.2" text-anchor="middle" fill="#000">7</text>
<text x="404" y="471" font-size="12.2" text-anchor="middle" fill="#000">10</text>
<text x="453.5" y="471" font-size="12.2" text-anchor="middle" fill="#000">29</text>
<text x="418.5" y="486" font-size="12.6" text-anchor="middle" fill="#000">Time (Days)</text>
<text x="434.4" y="371.9" font-size="15" text-anchor="start" fill="#000">PC</text>
<text transform="translate(375.8 376.7) scale(1.152 1)" font-size="9.2" font-style="italic" fill="#1a1ac8" stroke="#1a1ac8" stroke-width="0.3">p=0.01</text>
<text transform="translate(399.6 390.5) scale(1.152 1)" font-size="9.2" font-style="italic" fill="#1a1ac8" stroke="#1a1ac8" stroke-width="0.3">p=0.0009</text>
<text transform="translate(404.8 407.6) scale(1.152 1)" font-size="9.2" font-style="italic" fill="#1a1ac8" stroke="#1a1ac8" stroke-width="0.3">p=0.003</text>
<text transform="translate(439.5 417.2) scale(1.152 1)" font-size="9.2" font-style="italic" fill="#1a1ac8" stroke="#1a1ac8" stroke-width="0.3">p&lt;0.0001</text>
</svg>
</body></html>
